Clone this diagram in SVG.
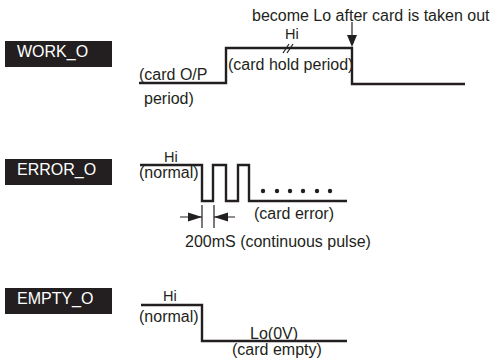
<svg xmlns="http://www.w3.org/2000/svg" width="491" height="362" viewBox="0 0 491 362">
<style>
text{font-family:"Liberation Sans",Arial,sans-serif;font-size:16px;fill:#231f20}
.lbl{fill:#ffffff}
.box{fill:#231f20}
.hi{font-size:14.5px}
.wave{fill:none;stroke:#231f20;stroke-width:2.4}
.thin{fill:none;stroke:#231f20;stroke-width:1.2}
.head{fill:#231f20}
</style>
<rect width="491" height="362" fill="#ffffff"/>
<g id="work_o">
<rect class="box" x="5" y="41" width="107" height="26"/>
<text class="lbl" x="17" y="57">WORK_O</text>
</g>
<g id="error_o">
<rect class="box" x="5" y="159" width="107" height="26"/>
<text class="lbl" x="17" y="175">ERROR_O</text>
</g>
<g id="empty_o">
<rect class="box" x="5" y="288" width="107" height="26"/>
<text class="lbl" x="17" y="304">EMPTY_O</text>
</g>
<g id="connectors">
<path class="wave" d="M139 83 H226 V48 H352 V84 H465"/>
<path class="thin" d="M283 53 L289 44 M287 53 L293 44"/>
<path class="thin" d="M352 22 V38"/>
<polygon class="head" points="347,35 357,35 352,47"/>
<path class="wave" d="M140 165 H202 V201 H213 V165 H226 V201 H238 V165 H249 V201 H347"/>
<path class="thin" d="M202 205 V228 M214 205 V228 M180 217 H202 M214 217 H235"/>
<polygon class="head" points="188,212.5 202,217 188,221.5"/>
<polygon class="head" points="228,212.5 214,217 228,221.5"/>
<path class="wave" d="M141 305 H202 V341 H347"/>
</g>
<g id="dots" class="head">
<circle cx="263" cy="191" r="2.2"/>
<circle cx="277" cy="191" r="2.2"/>
<circle cx="290" cy="191" r="2.2"/>
<circle cx="303" cy="191" r="2.2"/>
<circle cx="317" cy="191" r="2.2"/>
<circle cx="330" cy="191" r="2.2"/>
</g>
<g id="labels">
<text x="252" y="21">become Lo after card is taken out</text>
<text class="hi" x="285" y="39">Hi</text>
<text x="228" y="70">(card hold period)</text>
<text x="139" y="80">(card O/P</text>
<text x="144" y="104">period)</text>
<text class="hi" x="164" y="162">Hi</text>
<text x="139" y="178">(normal)</text>
<text x="254" y="219">(card error)</text>
<text x="185" y="247">200mS (continuous pulse)</text>
<text class="hi" x="163" y="301">Hi</text>
<text x="139" y="322">(normal)</text>
<text x="250" y="339">Lo(0V)</text>
<text x="232" y="355">(card empty)</text>
</g>
</svg>
